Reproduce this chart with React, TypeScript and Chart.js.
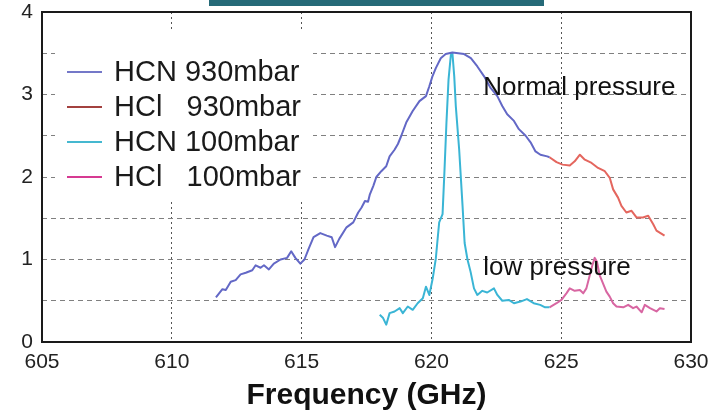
import React, { useEffect, useRef } from 'react';
import { Chart, registerables } from 'chart.js';

Chart.register(...registerables);

// ---- data ----
const hcn930Freq = [611.7, 611.95, 612.08, 612.27, 612.46, 612.65, 612.85, 613.1, 613.23, 613.42, 613.55, 613.74, 613.93, 614.19, 614.44, 614.6, 614.76, 614.95, 615.11, 615.27, 615.46, 615.72, 615.97, 616.16, 616.29, 616.45, 616.73, 616.99, 617.18, 617.31, 617.44, 617.56, 617.63, 617.76, 617.88, 618.07, 618.26, 618.39, 618.58, 618.71, 618.84, 619.03, 619.28, 619.54, 619.79, 619.92, 620.04, 620.17, 620.36, 620.55, 620.81, 621.26, 621.52, 621.77, 622.03, 622.28, 622.54, 622.73, 622.92, 623.18, 623.37, 623.63, 623.82, 624.01, 624.2, 624.46, 624.55];
const hcn930Abs = [0.54, 0.64, 0.63, 0.73, 0.75, 0.82, 0.84, 0.87, 0.93, 0.9, 0.93, 0.88, 0.95, 1.0, 1.02, 1.1, 1.02, 0.95, 1.0, 1.13, 1.27, 1.32, 1.29, 1.27, 1.15, 1.25, 1.39, 1.45, 1.57, 1.63, 1.71, 1.7, 1.79, 1.89, 2.0, 2.07, 2.13, 2.25, 2.33, 2.4, 2.5, 2.66, 2.8, 2.92, 2.98, 3.1, 3.22, 3.32, 3.44, 3.49, 3.51, 3.49, 3.44, 3.34, 3.22, 3.08, 2.98, 2.86, 2.76, 2.68, 2.58, 2.5, 2.42, 2.31, 2.27, 2.25, 2.24];

const hcl930Freq = [624.55, 624.82, 625.05, 625.33, 625.52, 625.72, 625.91, 626.17, 626.42, 626.68, 626.87, 627.0, 627.19, 627.32, 627.51, 627.71, 627.9, 628.15, 628.35, 628.54, 628.67, 628.98];
const hcl930Abs = [2.24, 2.18, 2.15, 2.14, 2.19, 2.27, 2.21, 2.17, 2.11, 2.07, 1.99, 1.85, 1.75, 1.65, 1.57, 1.59, 1.51, 1.51, 1.53, 1.43, 1.35, 1.29];

const hcn100Freq = [618.01, 618.14, 618.26, 618.39, 618.58, 618.78, 618.9, 619.09, 619.28, 619.47, 619.67, 619.79, 619.92, 620.05, 620.17, 620.24, 620.3, 620.43, 620.5, 620.58, 620.66, 620.75, 620.81, 620.88, 620.94, 621.07, 621.2, 621.28, 621.39, 621.51, 621.64, 621.77, 621.96, 622.15, 622.41, 622.54, 622.73, 622.98, 623.18, 623.43, 623.68, 623.94, 624.19, 624.38, 624.55];
const hcn100Abs = [0.33, 0.29, 0.21, 0.35, 0.37, 0.41, 0.35, 0.43, 0.39, 0.47, 0.53, 0.67, 0.57, 0.77, 1.01, 1.25, 1.45, 1.55, 2.05, 2.66, 3.18, 3.48, 3.5, 3.22, 2.86, 2.33, 1.65, 1.2, 1.0, 0.85, 0.65, 0.57, 0.62, 0.6, 0.65, 0.57, 0.5, 0.51, 0.47, 0.49, 0.52, 0.47, 0.45, 0.42, 0.42];

const hcl100Freq = [624.55, 624.82, 625.01, 625.2, 625.33, 625.52, 625.72, 625.85, 625.97, 626.1, 626.2, 626.29, 626.38, 626.48, 626.61, 626.74, 626.87, 627.0, 627.13, 627.39, 627.58, 627.77, 627.9, 628.1, 628.22, 628.42, 628.67, 628.8, 628.98];
const hcl100Abs = [0.42, 0.47, 0.51, 0.59, 0.65, 0.62, 0.63, 0.59, 0.65, 0.81, 0.93, 1.02, 0.97, 0.81, 0.71, 0.61, 0.55, 0.47, 0.43, 0.42, 0.45, 0.41, 0.43, 0.36, 0.45, 0.41, 0.37, 0.41, 0.4];

const seriesLabels = ['HCN 930mbar', 'HCl   930mbar', 'HCN 100mbar', 'HCl   100mbar'];
const seriesFreqs = [hcn930Freq, hcl930Freq, hcn100Freq, hcl100Freq];
const seriesAbs = [hcn930Abs, hcl930Abs, hcn100Abs, hcl100Abs];
const lineColors = ['#6368c6', '#e4665e', '#3ab5d5', '#d866a2'];
const legendColors = ['#7478c8', '#a3413f', '#45b8d0', '#d63a92'];

const xMin = 605;
const xMax = 630;
const xStep = 5;
const yMin = 0;
const yMax = 4;
const yStep = 0.5;
const xTitle = 'Frequency (GHz)';

const annotationTexts = ['Normal pressure', 'low pressure'];
const annotationFreq = [622, 622];
const annotationAbs = [3.0, 0.81];

const FONT = '"Liberation Sans", Arial, sans-serif';

const legendPlugin = {
  id: 'insideLegend',
  afterDatasetsDraw(chart: any) {
    const ctx = chart.ctx;
    const { left, top } = chart.chartArea;
    ctx.save();
    ctx.fillStyle = '#ffffff';
    ctx.fillRect(left + 13, top + 20, 258, 168);
    ctx.font = `29px ${FONT}`;
    ctx.textBaseline = 'middle';
    ctx.textAlign = 'left';
    chart.data.datasets.forEach((ds: any, i: number) => {
      const y = top + 60 + i * 35;
      ctx.strokeStyle = ds.legendColor;
      ctx.lineWidth = 2;
      ctx.beginPath();
      ctx.moveTo(left + 25, y);
      ctx.lineTo(left + 60, y);
      ctx.stroke();
      ctx.fillStyle = '#1a1a1a';
      ctx.fillText(ds.label, left + 72, y + 1);
    });
    ctx.restore();
  },
};

const annotationPlugin = {
  id: 'textNotes',
  afterDatasetsDraw(chart: any) {
    const ctx = chart.ctx;
    const xs = chart.scales.x;
    const ys = chart.scales.y;
    ctx.save();
    ctx.font = `26px ${FONT}`;
    ctx.fillStyle = '#111111';
    ctx.textAlign = 'left';
    ctx.textBaseline = 'alphabetic';
    annotationTexts.forEach((t, i) => {
      ctx.fillText(t, xs.getPixelForValue(annotationFreq[i]), ys.getPixelForValue(annotationAbs[i]));
    });
    ctx.restore();
  },
};

const framePlugin = {
  id: 'frame',
  afterDraw(chart: any) {
    const { left, top, right, bottom } = chart.chartArea;
    const ctx = chart.ctx;
    ctx.save();
    ctx.strokeStyle = '#1a1a1a';
    ctx.lineWidth = 2;
    ctx.strokeRect(left, top, right - left, bottom - top);
    ctx.restore();
  },
};

export default function App() {
  const canvasRef = useRef<HTMLCanvasElement | null>(null);

  useEffect(() => {
    if (!canvasRef.current) return;
    const datasets = seriesLabels.map((label, i) => ({
      label,
      data: seriesFreqs[i].map((f, j) => ({ x: f, y: seriesAbs[i][j] })),
      borderColor: lineColors[i],
      backgroundColor: lineColors[i],
      legendColor: legendColors[i],
      borderWidth: 2,
      pointRadius: 0,
      tension: 0,
      fill: false,
      borderJoinStyle: 'round',
    }));

    const chart = new Chart(canvasRef.current, {
      type: 'line',
      data: { datasets } as any,
      options: {
        animation: false,
        responsive: false,
        layout: { padding: { top: 12, right: 28, left: 0, bottom: 0 } },
        plugins: { legend: { display: false }, tooltip: { enabled: false } },
        scales: {
          x: {
            type: 'linear',
            min: xMin,
            max: xMax,
            afterFit: (s: any) => { s.height = 73; s.paddingLeft = 0; s.paddingRight = 0; },
            ticks: {
              stepSize: xStep,
              autoSkip: false,
              maxRotation: 0,
              padding: 8,
              color: '#222',
              font: { size: 21, family: FONT },
            },
            grid: { color: '#555', lineWidth: 1, drawTicks: false },
            border: { display: false, dash: [2, 3] },
            title: {
              display: true,
              text: xTitle,
              color: '#111',
              font: { size: 30, weight: 'bold', family: FONT },
              padding: { top: 0, bottom: 1 },
            },
          },
          y: {
            type: 'linear',
            min: yMin,
            max: yMax,
            afterFit: (s: any) => { s.width = 42; s.paddingTop = 0; s.paddingBottom = 0; },
            ticks: {
              stepSize: yStep,
              autoSkip: false,
              padding: 9,
              color: '#222',
              font: { size: 21, family: FONT },
              callback: (v: any) => (Number.isInteger(Number(v)) ? String(v) : ''),
            },
            grid: { color: '#808080', lineWidth: 1, drawTicks: false },
            border: { display: false, dash: [5, 4] },
          },
        },
      } as any,
      plugins: [legendPlugin, annotationPlugin, framePlugin],
    });
    return () => chart.destroy();
  }, []);

  return (
    <div style={{ position: 'fixed', left: 0, top: 0, width: 719, height: 415, background: '#fff' }}>
      <canvas ref={canvasRef} width={719} height={415} style={{ display: 'block' }} />
      <div style={{ position: 'absolute', left: 209, top: 0, width: 335, height: 6, background: '#266a78' }} />
    </div>
  );
}
